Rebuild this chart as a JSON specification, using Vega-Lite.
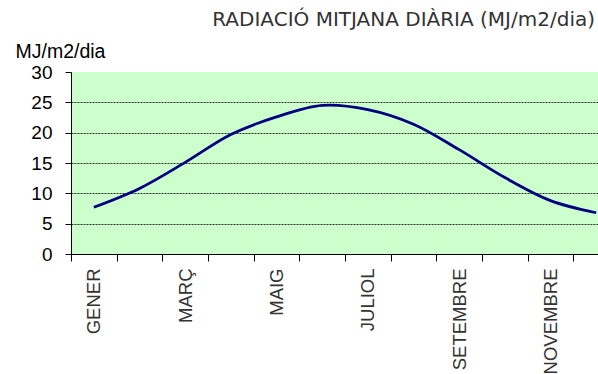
{
  "$schema": "https://vega.github.io/schema/vega-lite/v6.json",
  "autosize": {"type": "none"},
  "padding": {"left": 71, "top": 72, "right": 0, "bottom": 120},
  "width": 527,
  "height": 182,
  "background": "white",
  "title": {
    "text": "RADIACIÓ MITJANA DIÀRIA (MJ/m2/dia)",
    "anchor": "end",
    "frame": "group",
    "orient": "top",
    "baseline": "alphabetic",
    "offset": -5,
    "font": "DejaVu Sans",
    "fontSize": 20,
    "fontWeight": "normal",
    "color": "#333333",
    "dx": -3
  },
  "data": {
    "values": [
      {"m": 1, "v": 7.7},
      {"m": 2, "v": 10.8},
      {"m": 3, "v": 15.1},
      {"m": 4, "v": 19.7},
      {"m": 5, "v": 22.6},
      {"m": 6, "v": 24.5},
      {"m": 7, "v": 23.8},
      {"m": 8, "v": 21.4},
      {"m": 9, "v": 17.2},
      {"m": 10, "v": 12.6},
      {"m": 11, "v": 8.8},
      {"m": 12, "v": 6.8}
    ]
  },
  "mark": {"type": "line", "interpolate": "catmull-rom", "color": "#000080", "strokeWidth": 2.8, "clip": true},
  "encoding": {
    "x": {
      "field": "m",
      "type": "quantitative",
      "scale": {"domain": [0.5, 12.04], "nice": false, "zero": false},
      "axis": {
        "title": null,
        "values": [0.5, 1, 1.5, 2, 2.5, 3, 3.5, 4, 4.5, 5, 5.5, 6, 6.5, 7, 7.5, 8, 8.5, 9, 9.5, 10, 10.5, 11, 11.5, 12],
        "grid": false,
        "domainColor": "#000000",
        "domainWidth": 1,
        "tickColor": "#000000",
        "tickSize": 7,
        "tickOpacity": {"condition": {"test": "datum.value % 1 === 0", "value": 0}, "value": 1},
        "labelAngle": -90,
        "labelAlign": "right",
        "labelBaseline": "middle",
        "labelPadding": 7,
        "labelOverlap": false,
        "labelBound": false,
        "labelFlush": false,
        "labelFont": "Liberation Sans",
        "labelFontSize": 18.5,
        "labelColor": "#333333",
        "labelExpr": "datum.value % 2 === 1 ? ['GENER','','MARÇ','','MAIG','','JULIOL','','SETEMBRE','','NOVEMBRE',''][datum.value - 1] : ''"
      }
    },
    "y": {
      "field": "v",
      "type": "quantitative",
      "scale": {"domain": [0, 30], "nice": false},
      "axis": {
        "values": [0, 5, 10, 15, 20, 25, 30],
        "title": "MJ/m2/dia",
        "titleAngle": 0,
        "titleX": -56,
        "titleY": -15,
        "titleAlign": "left",
        "titleBaseline": "alphabetic",
        "titleFont": "Liberation Sans",
        "titleFontSize": 19.5,
        "titleFontWeight": "normal",
        "titleColor": "#000000",
        "grid": true,
        "gridColor": "#000000",
        "gridDash": [2, 1],
        "gridWidth": 1,
        "gridOpacity": {"condition": {"test": "datum.value === 30 || datum.value === 0", "value": 0}, "value": 0.8},
        "domainColor": "#000000",
        "tickColor": "#000000",
        "tickSize": 6,
        "labelPadding": 13,
        "labelFont": "Liberation Sans",
        "labelFontSize": 19,
        "labelColor": "#000000",
        "labelFlush": false,
        "labelBound": false
      }
    }
  },
  "config": {
    "view": {"fill": "#ccffcc", "stroke": null}
  }
}
